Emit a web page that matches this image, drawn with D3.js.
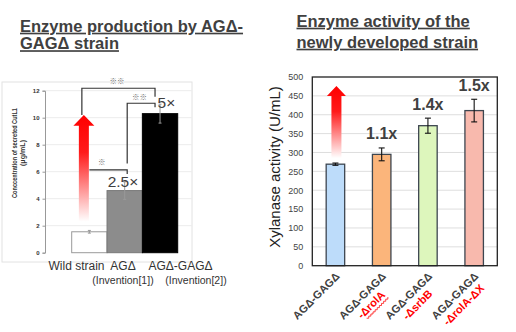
<!DOCTYPE html>
<html><head><meta charset="utf-8">
<script src="https://cdn.jsdelivr.net/npm/d3@7"></script>
<style>body{margin:0;background:#fff}svg{display:block;font-family:"Liberation Sans",Arial,sans-serif}
.star{font-family:"Noto Sans CJK JP","Noto Sans CJK SC","DejaVu Sans",sans-serif}</style>
</head><body><svg id="c" width="516" height="332"></svg>
<script>
// ---------- data ----------
const leftCategories = ["Wild strain", "AGΔ", "AGΔ-GAGΔ"];
const leftSubLabels = ["", "(Invention[1])", "(Invention[2])"];
const leftValues = [1.55, 4.6, 10.3];
const leftErrors = [0.1, 0.65, 0.7];
const leftTicks = [0, 2, 4, 6, 8, 10, 12];
const leftFold = ["", "2.5×", "5×"];

const rightLine1 = ["AGΔ-GAGΔ", "AGΔ-GAGΔ", "AGΔ-GAGΔ", "AGΔ-GAGΔ"];
const rightLine2 = ["", "-ΔrolA", "-ΔsrbB", "-ΔrolA-ΔX"];
const rightValues = [269, 295, 371, 411];
const rightErrors = [3, 17, 20, 30];
const rightTicks = [0, 50, 100, 150, 200, 250, 300, 350, 400, 450, 500];
const rightFold = ["", "1.1x", "1.4x", "1.5x"];

const svg = d3.select("#c");
const defs = svg.append("defs");
function grad(id, y1, y2) {
  const g = defs.append("linearGradient").attr("id", id)
    .attr("gradientUnits", "userSpaceOnUse").attr("x1", 0).attr("x2", 0).attr("y1", y1).attr("y2", y2);
  g.append("stop").attr("offset", "0%").attr("stop-color", "#ff0000");
  g.append("stop").attr("offset", "35%").attr("stop-color", "#ff1a1a");
  g.append("stop").attr("offset", "100%").attr("stop-color", "#ffffff");
}

// ---------- titles ----------
function title(x, lines, y0, dy) {
  lines.forEach((t, i) => {
    svg.append("text").attr("x", x).attr("y", y0 + i * dy).text(t)
      .attr("font-size", 16.5).attr("font-weight", "bold").attr("fill", "#404040")
      .attr("text-decoration", "underline");
  });
}
title(20, ["Enzyme production by AGΔ-", "GAGΔ strain"], 31.7, 17.5);
title(296.5, ["Enzyme activity of the", "newly developed strain"], 26.7, 21);

// ---------- left chart ----------
const L = svg.append("g");
L.append("rect").attr("x", 2).attr("y", 82).attr("width", 190).attr("height", 180)
  .attr("fill", "none").attr("stroke", "#e2e2e2");
const xL = d3.scaleBand().domain(leftCategories).range([71.7, 177.7]).padding(0);
const yL = d3.scaleLinear().domain([0, 12]).range([252.7, 90.7]);
const bwL = xL.bandwidth();
const cL = i => xL(leftCategories[i]) + bwL / 2;

L.selectAll(".gl").data(leftTicks.filter(d => d > 0)).join("line")
  .attr("x1", 45).attr("x2", 192).attr("y1", d => yL(d)).attr("y2", d => yL(d))
  .attr("stroke", "#ececec");
const axL = L.append("g").attr("transform", "translate(45,0)")
  .call(d3.axisLeft(yL).tickValues(leftTicks).tickSize(2.5).tickPadding(3));
axL.select(".domain").attr("stroke", "#999");
axL.selectAll(".tick line").attr("stroke", "#999");
axL.selectAll("text").attr("font-size", 6).attr("font-weight", "bold").attr("fill", "#333")
  .attr("font-family", "Liberation Sans, Arial");

const leftFill = ["#ffffff", "#8c8c8c", "#000000"];
const leftStroke = ["#9a9a9a", "#777", "#000"];
L.selectAll(".bl").data(leftValues).join("rect")
  .attr("x", (d, i) => xL(leftCategories[i])).attr("width", bwL)
  .attr("y", d => yL(d)).attr("height", d => yL(0) - yL(d))
  .attr("fill", (d, i) => leftFill[i]).attr("stroke", (d, i) => leftStroke[i]).attr("stroke-width", 1);
leftValues.forEach((v, i) => {
  const e = leftErrors[i], x = cL(i);
  L.append("line").attr("x1", x).attr("x2", x).attr("y1", yL(v - e)).attr("y2", yL(v + e))
    .attr("stroke", "#999").attr("stroke-width", 1);
  [v - e, v + e].forEach(w => L.append("line").attr("x1", x - 1.5).attr("x2", x + 1.5)
    .attr("y1", yL(w)).attr("y2", yL(w)).attr("stroke", "#999"));
});

// red arrow (left)
const aLx = cL(0) - 5.5;
grad("gL", yL(10.2), yL(2.3));
L.append("path").attr("fill", "url(#gL)")
  .attr("d", `M${aLx},${yL(10.2)} L${aLx + 10.5},${yL(9.4)} L${aLx + 5},${yL(9.4)} L${aLx + 5},${yL(2.3)} L${aLx - 5},${yL(2.3)} L${aLx - 5},${yL(9.4)} L${aLx - 10.5},${yL(9.4)} Z`);

// significance brackets
const bx1 = aLx - 2, bx2 = cL(1) + 2.5, bx3 = cL(2) - 5;
const br = d => L.append("path").attr("d", d).attr("fill", "none").attr("stroke", "#333").attr("stroke-width", 1.2);
br(`M${bx1},${yL(10.2)} V${yL(12.18)} H${bx3} V${yL(11.55)}`);
br(`M${bx2},${yL(6.6)} V${yL(11.07)} H${bx3} V${yL(10.77)}`);
br(`M${aLx + 5.5},${yL(6.13)} H${bx2} V${yL(5.83)}`);
const star = (x, y, t) => L.append("text").attr("class", "star").attr("x", x).attr("y", y).attr("text-anchor", "middle")
  .attr("font-size", 7.5).attr("fill", "#6e6e6e").text(t);
star(117, 83.5, "※※");
star(139.5, 99.5, "※※");
star(101.7, 164.5, "※");

L.append("text").attr("x", cL(1) - 17).attr("y", 187.3).text(leftFold[1])
  .attr("font-size", 15.5).attr("fill", "#404040");
L.append("text").attr("x", cL(2) - 2.5).attr("y", 107.7).text(leftFold[2])
  .attr("font-size", 15.5).attr("fill", "#404040");

// x labels left
const leftLabelX = [76.5, 123, 180.5];
const leftSubX = [0, 123, 196];
leftCategories.forEach((c, i) => {
  L.append("text").attr("x", leftLabelX[i]).attr("y", 270).attr("text-anchor", "middle")
    .attr("font-size", 12).attr("fill", "#333").text(c);
  if (leftSubLabels[i]) L.append("text").attr("x", leftSubX[i]).attr("y", 284).attr("text-anchor", "middle")
    .attr("font-size", 10.5).attr("fill", "#333").text(leftSubLabels[i]);
});
// y label left
const yl = L.append("g").attr("transform", "translate(0,153) rotate(-90)");
yl.append("text").attr("x", 0).attr("y", 17).attr("text-anchor", "middle").attr("font-size", 7)
  .attr("font-weight", "bold").attr("fill", "#333").attr("textLength", 90).attr("lengthAdjust", "spacingAndGlyphs")
  .text("Conccentration of secreted CutL1");
yl.append("text").attr("x", 0).attr("y", 24.5).attr("text-anchor", "middle").attr("font-size", 7)
  .attr("font-weight", "bold").attr("fill", "#333").attr("textLength", 26).attr("lengthAdjust", "spacingAndGlyphs")
  .text("(μg/mL)");

// ---------- right chart ----------
const R = svg.append("g");
const xR = d3.scaleBand().domain(d3.range(rightValues.length)).range([312.3, 497.3]).paddingInner(0.6).paddingOuter(0.3);
const yR = d3.scaleLinear().domain([0, 500]).range([265.7, 77]);
const cR = i => xR(i) + xR.bandwidth() / 2;

R.selectAll(".gr").data(rightTicks.filter(d => d > 0 && d < 500)).join("line")
  .attr("x1", 312.3).attr("x2", 497.3).attr("y1", d => yR(d)).attr("y2", d => yR(d))
  .attr("stroke", "#dedede");
const axR = R.append("g").attr("transform", "translate(312.3,0)")
  .call(d3.axisLeft(yR).tickValues(rightTicks).tickSize(0).tickPadding(9));
axR.select(".domain").remove();
axR.selectAll("text").attr("font-size", 9).attr("fill", "#444").attr("font-family", "Liberation Sans, Arial");

const rightFill = ["#bddcfa", "#fbb57b", "#ddf6bc", "#f8b9ad"];
R.selectAll(".br").data(rightValues).join("rect")
  .attr("x", (d, i) => xR(i)).attr("width", xR.bandwidth())
  .attr("y", d => yR(d)).attr("height", d => yR(0) - yR(d))
  .attr("fill", (d, i) => rightFill[i]).attr("stroke", "#3d4650").attr("stroke-width", 1.3);
rightValues.forEach((v, i) => {
  const e = rightErrors[i], x = cR(i);
  R.append("line").attr("x1", x).attr("x2", x).attr("y1", yR(v - e)).attr("y2", yR(v + e))
    .attr("stroke", "#111").attr("stroke-width", 1.1);
  [v - e, v + e].forEach(w => R.append("line").attr("x1", x - 3).attr("x2", x + 3)
    .attr("y1", yR(w)).attr("y2", yR(w)).attr("stroke", "#111").attr("stroke-width", 1.1));
  if (rightFold[i]) R.append("text").attr("x", x).attr("y", yR(v + e) - 8.5).attr("text-anchor", "middle")
    .attr("font-size", 16).attr("font-weight", "bold").attr("fill", "#404040").text(rightFold[i]);
});
R.append("rect").attr("x", 312.3).attr("y", 77).attr("width", 185).attr("height", 188.7)
  .attr("fill", "none").attr("stroke", "#222").attr("stroke-width", 1.3);

// red arrow (right)
const aRx = cR(0) + 1;
grad("gR", yR(476), yR(285));
R.append("path").attr("fill", "url(#gR)")
  .attr("d", `M${aRx},${yR(476)} L${aRx + 9.5},${yR(449.6)} L${aRx + 5},${yR(449.6)} L${aRx + 5},${yR(285)} L${aRx - 5},${yR(285)} L${aRx - 5},${yR(449.6)} L${aRx - 9.5},${yR(449.6)} Z`);

// y label right
R.append("text").attr("transform", "translate(280,167) rotate(-90)").attr("text-anchor", "middle")
  .attr("font-size", 15).attr("fill", "#222").text("Xylanase activity (U/mL)");

// x labels right (rotated)
rightLine1.forEach((t, i) => {
  const g = R.append("g").attr("transform", `translate(${cR(i) + 5},${277})rotate(-45)`);
  const t1 = g.append("text").attr("text-anchor", "end").attr("font-size", 11).attr("font-weight", "bold")
    .attr("fill", "#404040").text(t);
  const w1 = t1.node().getComputedTextLength();
  if (rightLine2[i]) {
    const t2 = g.append("text").attr("x", -w1 / 2).attr("y", 12.5).attr("text-anchor", "middle")
      .attr("font-size", 11).attr("font-weight", "bold").attr("fill", "#ff0000").text(rightLine2[i]);
    if (i === 1) {
      const w2 = t2.node().getComputedTextLength();
      const s = -w1 / 2 - w2 / 2 + 4, e = -w1 / 2 + w2 / 2;
      let d = `M${s},15`;
      for (let x = s, k = 0; x < e; x += 1.5, k++) d += ` L${x + 1.5},${k % 2 ? 15 : 16.5}`;
      g.append("path").attr("d", d).attr("fill", "none").attr("stroke", "#ff0000").attr("stroke-width", 0.7);
    }
  }
});
</script></body></html>
